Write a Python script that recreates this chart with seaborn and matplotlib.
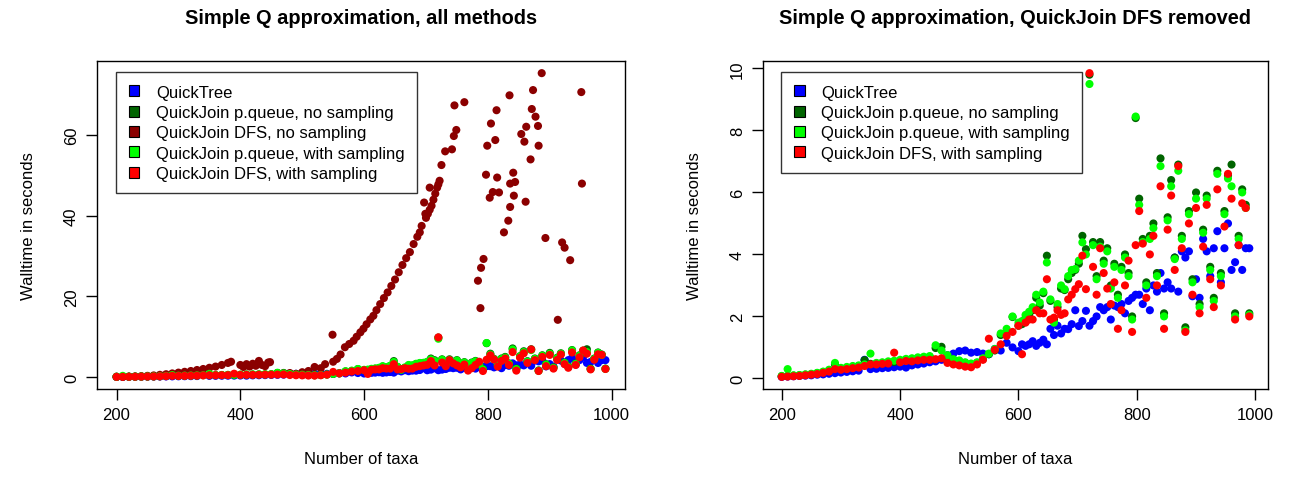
import numpy as np
import pandas as pd
import matplotlib
matplotlib.use("Agg")
import matplotlib.pyplot as plt
from matplotlib.patches import Patch
import seaborn as sns

sns.set_style("white")
plt.rcParams['font.family'] = ['Liberation Sans', 'DejaVu Sans']
plt.rcParams['text.color'] = 'black'
plt.rcParams['axes.labelcolor'] = 'black'
plt.rcParams['xtick.color'] = 'black'
plt.rcParams['ytick.color'] = 'black'

# number of taxa used for QuickTree and the QuickJoin p.queue / sampled runs
taxa = [200, 210, 220, 230, 240, 250, 260, 270, 280, 290, 300, 310, 320, 330, 340,
        350, 360, 370, 380, 390, 400, 410, 420, 430, 440, 450, 460, 470, 480, 490,
        500, 510, 520, 530, 540, 550, 560, 570, 580, 590, 600,
        606, 612, 618, 624, 630, 636, 642, 648, 654, 660, 666, 672, 678, 684, 690,
        696, 702, 708, 714, 720, 726, 732, 738, 744, 750, 756, 762, 768, 774, 780,
        786, 792, 798, 804, 810, 816, 822, 828, 834, 840, 846, 852, 858, 864, 870,
        876, 882, 888, 894, 900, 906, 912, 918, 924, 930, 936, 942, 948, 954, 960,
        966, 972, 978, 984, 990]

quicktree = [0.05, 0.06, 0.07, 0.08, 0.09, 0.10, 0.12, 0.13, 0.15, 0.17, 0.19, 0.21, 0.23, 0.25, 0.60,
             0.30, 0.31, 0.33, 0.34, 0.36, 0.38, 0.35, 0.42, 0.45, 0.48, 0.52, 0.55, 0.60, 0.75, 0.80,
             0.88, 0.90, 0.83, 0.85, 0.80, 0.78, 0.95, 0.90, 1.15, 1.00, 0.88,
             1.10, 1.05, 1.10, 1.20, 1.05, 1.15, 1.25, 1.10, 1.60, 1.40, 1.70, 1.45, 1.60, 1.59, 1.75,
             2.20, 1.69, 1.85, 2.18, 1.70, 1.85, 2.00, 2.30, 2.20, 2.30, 1.90, 2.35, 2.30, 2.40, 2.10,
             2.50, 2.60, 2.70, 2.70, 2.40, 2.90, 2.20, 3.00, 2.80, 3.40, 2.90, 3.10, 2.90, 3.90, 2.80,
             4.10, 3.90, 4.10, 2.65, 3.20, 2.60, 4.50, 4.10, 3.30, 4.20, 4.75, 3.10, 4.20, 5.00, 3.50,
             3.75, 4.30, 3.50, 4.20, 4.20]

pq_nosamp = [0.07, 0.08, 0.09, 0.10, 0.12, 0.14, 0.17, 0.20, 0.26, 0.45, 0.32, 0.35, 0.38, 0.40, 0.59,
             0.47, 0.48, 0.50, 0.52, 0.53, 0.56, 0.60, 0.62, 0.64, 0.66, 0.70, 0.98, 1.02, 0.72, 0.60,
             0.55, 0.50, 0.45, 0.50, 0.62, 0.78, 0.90, 1.40, 1.50, 1.98, 1.70,
             1.75, 1.95, 2.05, 2.20, 2.60, 2.35, 2.75, 3.96, 2.50, 1.90, 2.30, 2.90, 2.85, 3.20, 3.40,
             3.50, 3.70, 4.60, 4.17, 9.80, 4.40, 3.30, 4.40, 3.80, 4.20, 3.00, 3.70, 2.70, 3.60, 4.00,
             3.40, 2.00, 8.40, 5.80, 4.50, 3.10, 4.60, 5.00, 3.40, 7.10, 2.10, 5.20, 6.40, 3.90, 6.90,
             4.60, 1.65, 5.40, 3.20, 6.00, 2.40, 4.80, 5.90, 3.60, 2.60, 6.70, 3.40, 5.40, 6.55, 6.90,
             2.10, 4.60, 6.10, 5.60, 2.10]

pq_samp = [0.08, 0.30, 0.10, 0.11, 0.13, 0.15, 0.18, 0.22, 0.28, 0.50, 0.34, 0.37, 0.40, 0.42, 0.45,
           0.80, 0.50, 0.52, 0.55, 0.57, 0.60, 0.63, 0.65, 0.68, 0.70, 0.72, 1.07, 0.90, 0.75, 0.62,
           0.58, 0.52, 0.48, 0.52, 0.65, 0.80, 0.95, 1.45, 1.60, 2.00, 1.80,
           1.85, 2.05, 2.15, 2.30, 2.70, 2.45, 2.80, 3.74, 2.55, 1.80, 2.40, 3.00, 2.88, 3.30, 3.50,
           3.53, 3.80, 4.39, 4.00, 9.50, 4.30, 3.20, 4.25, 3.70, 4.10, 2.90, 3.60, 2.60, 3.50, 3.90,
           3.30, 1.90, 8.45, 5.60, 4.40, 3.00, 4.50, 4.85, 3.30, 6.85, 2.00, 5.10, 6.20, 3.85, 6.70,
           4.50, 1.55, 5.30, 3.10, 5.80, 2.30, 4.70, 5.80, 3.50, 2.50, 6.60, 3.30, 5.30, 6.45, 6.20,
           2.00, 4.50, 6.00, 5.50, 2.05]

dfs_samp = [0.05, 0.06, 0.07, 0.08, 0.10, 0.12, 0.14, 0.18, 0.22, 0.30, 0.28, 0.30, 0.33, 0.35, 0.40,
            0.45, 0.45, 0.47, 0.48, 0.83, 0.52, 0.56, 0.55, 0.58, 0.60, 0.60, 0.62, 0.65, 0.50, 0.45,
            0.42, 0.38, 0.36, 0.45, 0.60, 1.28, 0.92, 1.10, 1.37, 1.50, 1.70,
            0.78, 1.80, 1.90, 1.90, 2.20, 2.10, 2.10, 3.20, 1.90, 1.96, 2.20, 2.05, 2.10, 2.55, 2.70,
            2.88, 3.04, 3.96, 2.88, 9.85, 3.60, 2.70, 4.20, 3.40, 2.90, 2.40, 3.10, 1.60, 2.20, 3.00,
            3.80, 1.50, 4.30, 5.40, 4.35, 2.60, 4.00, 4.60, 3.00, 6.20, 1.60, 4.80, 5.90, 3.50, 6.85,
            4.20, 1.50, 5.00, 2.70, 5.50, 2.10, 4.25, 5.60, 3.20, 2.30, 6.10, 3.00, 4.90, 6.60, 5.80,
            1.90, 4.30, 5.65, 5.50, 2.00]

# QuickJoin DFS without sampling (left panel only)
dfs_taxa = [200, 210, 220, 230, 240, 250, 260, 270, 280, 290, 300, 310, 320, 330, 340,
            350, 360, 370, 380, 385, 400, 405, 410, 415, 420, 425, 430, 435, 440, 445,
            448, 460, 470, 480, 490, 500, 510, 520, 530, 537, 549, 550, 556, 562, 569,
            576, 583, 588, 594, 599, 604, 610, 615, 620, 626, 632, 638, 644, 650, 656,
            662, 668, 674, 680, 686, 690, 693, 697, 699, 700, 703, 706, 706, 709, 712,
            715, 718, 720, 722, 725, 731, 742, 745, 746, 749, 762, 784, 788, 789, 793,
            797, 799, 803, 805, 808, 812, 814, 815, 818, 826, 833, 835, 836, 836, 841,
            842, 844, 854, 859, 861, 862, 869, 871, 873, 877, 881, 882, 887, 893, 913,
            920, 924, 933, 951, 952]
dfs_nosamp = [0.05, 0.08, 0.12, 0.16, 0.22, 0.30, 0.40, 0.55, 0.70, 0.90, 1.10, 1.30, 1.50, 1.75, 2.00,
              2.30, 2.60, 3.00, 3.50, 3.80, 3.00, 2.50, 3.20, 2.60, 3.30, 2.80, 4.00, 3.00, 2.70, 3.60,
              3.70, 1.00, 0.90, 1.00, 0.80, 1.20, 1.50, 2.50, 2.20, 3.20, 10.5, 3.80, 4.50, 5.60, 7.40,
              8.20, 9.00, 10.0, 11.1, 12.0, 13.1, 14.3, 15.2, 16.6, 18.1, 19.6, 21.0, 22.6, 24.2, 26.0,
              27.8, 29.5, 31.0, 33.0, 34.8, 35.9, 37.5, 43.3, 40.5, 39.5, 40.5, 41.5, 47.0, 42.5, 44.0,
              45.5, 47.0, 47.8, 48.7, 52.6, 56.0, 56.5, 59.8, 67.4, 61.3, 68.2, 23.9, 17.1, 27.1, 29.3,
              50.2, 57.4, 44.5, 62.9, 45.9, 58.8, 66.2, 49.5, 45.8, 35.9, 38.8, 69.9, 48.0, 42.2, 50.7,
              45.0, 48.4, 60.3, 58.4, 43.5, 62.1, 54.0, 66.5, 71.2, 64.6, 62.3, 57.4, 75.4, 34.5, 14.2,
              33.4, 32.1, 29.0, 70.7, 48.0]

names_all = ["QuickTree", "QuickJoin p.queue, no sampling", "QuickJoin DFS, no sampling",
             "QuickJoin p.queue, with sampling", "QuickJoin DFS, with sampling"]
names_sub = ["QuickTree", "QuickJoin p.queue, no sampling",
             "QuickJoin p.queue, with sampling", "QuickJoin DFS, with sampling"]
colors = {"QuickTree": "#0000FF",
          "QuickJoin p.queue, no sampling": "#006400",
          "QuickJoin DFS, no sampling": "#8B0000",
          "QuickJoin p.queue, with sampling": "#00FF00",
          "QuickJoin DFS, with sampling": "#FF0000"}

series = {"QuickTree": (taxa, quicktree),
          "QuickJoin p.queue, no sampling": (taxa, pq_nosamp),
          "QuickJoin DFS, no sampling": (dfs_taxa, dfs_nosamp),
          "QuickJoin p.queue, with sampling": (taxa, pq_samp),
          "QuickJoin DFS, with sampling": (taxa, dfs_samp)}


def long_frame(names):
    parts = []
    for name in names:
        xs, ys = series[name]
        parts.append(pd.DataFrame({"taxa": xs, "time": ys, "method": name}))
    return pd.concat(parts, ignore_index=True)


def r_lim(values):
    lo, hi = min(values), max(values)
    pad = 0.04 * (hi - lo)
    return lo - pad, hi + pad


def panel(ax, names, title, yticks):
    df = long_frame(names)
    sns.scatterplot(data=df, x="taxa", y="time", hue="method", hue_order=names,
                    palette=colors, s=34, linewidth=0, alpha=1, legend=False, ax=ax)
    ax.set_xlim(*r_lim(df["taxa"]))
    ax.set_ylim(*r_lim(df["time"]))
    ax.set_xticks([200, 400, 600, 800, 1000])
    ax.set_yticks(yticks)
    ax.set_yticklabels([str(v) for v in yticks], rotation=90, va="center")
    ax.tick_params(axis="both", direction="out", length=8, width=1, color="black",
                   labelcolor="black", labelsize=12, pad=5, bottom=True, left=True)
    for sp in ax.spines.values():
        sp.set_color("black")
        sp.set_linewidth(1)
    ax.set_xlabel("Number of taxa", fontsize=12, labelpad=21, color="black")
    ax.set_ylabel("Walltime in seconds", fontsize=12, labelpad=20, color="black")
    ax.set_title(title, fontsize=14.4, fontweight="bold", pad=27, color="black")
    handles = [Patch(facecolor=colors[n], edgecolor="black", linewidth=0.8) for n in names]
    leg = ax.legend(handles, names, loc="upper left", bbox_to_anchor=(0.036, 0.966),
                    fontsize=12, frameon=True, fancybox=False, edgecolor="black",
                    handlelength=0.65, handleheight=0.65, handletextpad=1.0,
                    labelspacing=0.32, borderpad=0.75, borderaxespad=0)
    leg.get_frame().set_linewidth(1)
    for t in leg.get_texts():
        t.set_color("black")


fig = plt.figure(figsize=(13.05, 4.81), dpi=100)
ax1 = fig.add_axes([97 / 1305, 91 / 481, 528 / 1305, 328 / 481])
ax2 = fig.add_axes([763 / 1305, 91 / 481, 505 / 1305, 328 / 481])

panel(ax1, names_all, "Simple Q approximation, all methods", [0, 20, 40, 60])
panel(ax2, names_sub, "Simple Q approximation, QuickJoin DFS removed", [0, 2, 4, 6, 8, 10])

fig.savefig("out.png", dpi=100)
